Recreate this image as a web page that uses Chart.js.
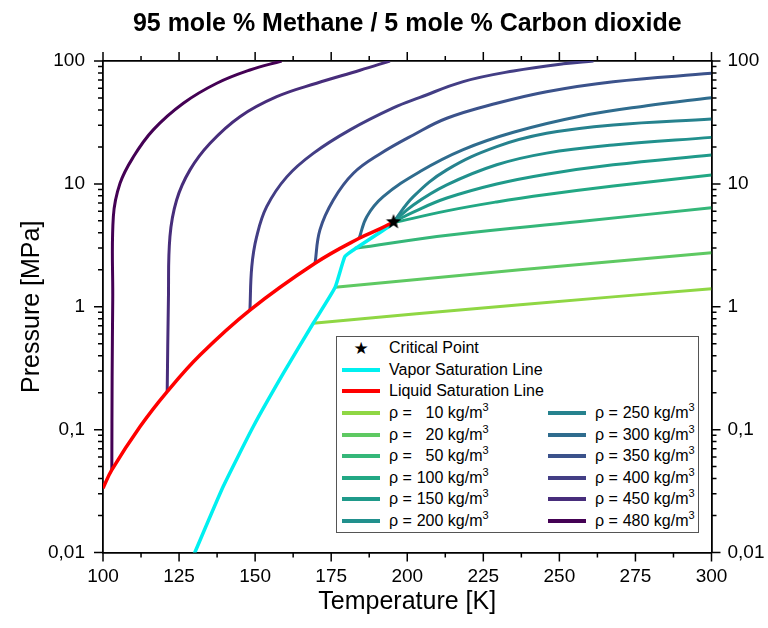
<!DOCTYPE html>
<html>
<head>
<meta charset="utf-8">
<title>95 mole % Methane / 5 mole % Carbon dioxide</title>
<script src="https://cdn.jsdelivr.net/npm/chart.js@4.4.1/dist/chart.umd.min.js"></script>
<style>
  body { margin: 0; background: #fff; }
  #wrap { position: relative; width: 768px; height: 628px; }
  #legend { position: absolute; left: 336px; top: 336px; width: 363px; height: 197px;
    border: 1px solid #555; background: #fff; box-sizing: border-box;
    font: 16px "Liberation Sans", Arial, sans-serif; color: #000; }
  .item { position: absolute; height: 21.6px; display: flex; align-items: center; white-space: nowrap; }
  .swatch { width: 38px; height: 4px; margin-right: 9px; flex: none; }
  .star { width: 38px; margin-right: 9px; text-align: center; font: 17px "DejaVu Sans", sans-serif; }
  .num { display: inline-block; width: 27px; text-align: right; }
  sup { font-size: 11px; line-height: 0; vertical-align: 7px; }
</style>
</head>
<body>
<div id="wrap">
  <canvas id="chart" width="768" height="628"></canvas>
  <div id="legend"></div>
</div>
<script>
// [temperature K, pressure MPa]
const criticalPoint = [[195.5, 4.9]];
const liquidLine = [[100, 0.0334], [102.9, 0.047], [112.2, 0.106], [121.1, 0.204], [131.9, 0.405],
  [148.3, 0.94], [169.7, 2.26], [184.2, 3.61], [191.0, 4.3], [195.5, 4.9]];
const vaporLine = [[129.8, 0.0095], [139.5, 0.0344], [149.4, 0.106], [159.3, 0.288], [169.1, 0.734],
  [176.3, 1.44], [179.5, 2.56], [182.3, 2.9], [193.8, 4.48], [195.5, 4.9]];

const rho10 = [[169.1, 0.734], [237.1, 1.04], [300, 1.40]];
const rho20 = [[176.3, 1.44], [237.1, 2.0], [300, 2.75]];
const rho50 = [[182.8, 2.99], [214.0, 3.84], [256.8, 4.94], [300, 6.4]];
const rho100 = [[195.3, 4.81], [213.0, 6.03], [229.4, 7.13], [245.8, 8.2], [267.7, 9.62], [300, 11.8]];
const rho150 = [[195.5, 4.9], [202.0, 5.9], [213.0, 7.67], [229.4, 9.98], [245.8, 12.0], [267.7, 14.3], [300, 17.2]];
const rho200 = [[195.5, 4.9], [202.0, 6.73], [213.0, 9.8], [229.4, 14.3], [245.8, 17.8], [267.7, 20.7], [300, 23.9]];
const rho250 = [[195.5, 4.9], [202.0, 7.87], [213.0, 13.0], [229.4, 20.1], [245.8, 25.8], [267.7, 30.2], [300, 33.7]];
const rho300 = [[184.2, 3.61], [186.7, 5.41], [192.1, 7.87], [204.2, 12.6], [218.4, 19.0], [234.9, 26.3],
  [256.8, 35.5], [278.7, 43.2], [300, 50.3]];
const rho350 = [[169.7, 2.26], [171.3, 4.22], [175.7, 7.4], [182.3, 12.2], [191.0, 17.5], [202.0, 25.0],
  [213.0, 34.2], [229.4, 45.3], [245.8, 56.3], [267.7, 67.9], [300, 79.4]];
const rho400 = [[148.3, 0.94], [148.9, 2.12], [150.5, 3.72], [153.8, 6.52], [160.4, 11.4], [169.1, 17.7],
  [181.2, 27.5], [195.4, 41.5], [204.2, 50.5], [218.4, 68], [234.9, 83], [251.3, 95], [261.2, 100]];
const rho450 = [[121.1, 0.204], [121.5, 1.14], [122.0, 3.72], [124.2, 7.4], [128.6, 13.0], [135.2, 21.4],
  [145.0, 35.2], [157.1, 51.2], [170.2, 65.9], [184.5, 84], [194.3, 100]];
const rho480 = [[102.9, 0.047], [103.0, 0.27], [103.2, 1.14], [103.4, 5.41], [105.6, 10.1], [110.0, 16.6],
  [116.5, 27.5], [126.4, 45.3], [137.4, 65.9], [148.3, 84.5], [158.7, 100]];

const densities = [10, 20, 50, 100, 150, 200, 250, 300, 350, 400, 450, 480];
const isochores = [rho10, rho20, rho50, rho100, rho150, rho200, rho250, rho300, rho350, rho400, rho450, rho480];
const densityColors = ['#8fd744', '#5ec962', '#35b779', '#22a884', '#1f9a8a', '#21908d',
  '#26828e', '#2f6c8e', '#3b528b', '#433e85', '#472d7b', '#440154'];
const vaporColor = '#00f0f0';
const liquidColor = '#ff0000';
const yTickLabels = ['0,01', '0,1', '1', '10', '100'];

Chart.defaults.font.family = '"Liberation Sans", Arial, sans-serif';
Chart.defaults.color = '#000';

const toPoints = arr => arr.map(p => ({ x: p[0], y: p[1] }));

function makeStar(r) {
  const c = document.createElement('canvas');
  c.width = c.height = r * 2 + 2;
  const g = c.getContext('2d');
  g.beginPath();
  for (let i = 0; i < 10; i++) {
    const rad = i % 2 ? r * 0.42 : r;
    const a = -Math.PI / 2 + i * Math.PI / 5;
    g.lineTo(r + 1 + rad * Math.cos(a), r + 1 + rad * Math.sin(a));
  }
  g.closePath();
  g.fillStyle = '#000';
  g.fill();
  return c;
}

// tick marks outside the frame, long at majors
const frameTicks = {
  id: 'frameTicks',
  afterDraw(chart) {
    const { ctx, chartArea: area, scales: { x, y } } = chart;
    ctx.save();
    ctx.strokeStyle = '#000';
    ctx.lineWidth = 1.5;
    ctx.beginPath();
    for (let t = 100; t <= 300; t += 12.5) {
      const px = x.getPixelForValue(t);
      const len = t % 25 === 0 ? 9 : 5;
      ctx.moveTo(px, area.bottom); ctx.lineTo(px, area.bottom + len);
      ctx.moveTo(px, area.top); ctx.lineTo(px, area.top - len);
    }
    for (let e = -2; e <= 2; e++) {
      for (let k = 1; k <= (e === 2 ? 1 : 9); k++) {
        const py = y.getPixelForValue(k * Math.pow(10, e));
        const len = k === 1 ? 9 : 5;
        ctx.moveTo(area.left, py); ctx.lineTo(area.left - len, py);
        ctx.moveTo(area.right, py); ctx.lineTo(area.right + len, py);
      }
    }
    ctx.stroke();
    ctx.restore();
  }
};

const datasets = [
  { label: 'Critical Point', data: toPoints(criticalPoint), showLine: false,
    pointStyle: makeStar(8), pointRadius: 8, pointHoverRadius: 8 },
  { label: 'Liquid Saturation Line', data: toPoints(liquidLine), borderColor: liquidColor,
    borderWidth: 3.5, tension: 0.4 },
  { label: 'Vapor Saturation Line', data: toPoints(vaporLine), borderColor: vaporColor,
    borderWidth: 3.5, tension: 0.15 }
];
densities.forEach((d, i) => {
  datasets.push({ label: 'ρ = ' + d + ' kg/m³', data: toPoints(isochores[i]),
    borderColor: densityColors[i], borderWidth: 3, tension: 0.4 });
});

const logTick = v => {
  const e = Math.log10(v);
  return Math.abs(e - Math.round(e)) < 1e-6 ? yTickLabels[Math.round(e) + 2] : '';
};
const frameBorder = { color: '#000', width: 1.8 };
const noGrid = { drawOnChartArea: false, drawTicks: false };

new Chart(document.getElementById('chart'), {
  type: 'scatter',
  data: { datasets },
  options: {
    responsive: false,
    animation: false,
    layout: { padding: 0 },
    elements: { point: { radius: 0, hoverRadius: 0 }, line: { fill: false } },
    datasets: { scatter: { showLine: true } },
    plugins: {
      legend: { display: false },
      tooltip: { enabled: false },
      title: {
        display: true,
        fullSize: false,
        text: '95 mole % Methane / 5 mole % Carbon dioxide',
        font: { size: 25, weight: 'bold' },
        padding: { top: 9, bottom: 10 }
      }
    },
    scales: {
      x: {
        type: 'linear', position: 'bottom', min: 100, max: 300,
        ticks: { stepSize: 25, padding: 13, font: { size: 19 } },
        grid: noGrid, border: frameBorder,
        title: { display: true, text: 'Temperature [K]', font: { size: 25 }, padding: { top: 0, bottom: 11 } },
        afterFit: s => { s.height = 75.5; }
      },
      x2: {
        type: 'linear', position: 'top', min: 100, max: 300,
        ticks: { display: false }, grid: noGrid, border: frameBorder,
        afterFit: s => { s.height = 12; }
      },
      y: {
        type: 'logarithmic', position: 'left', min: 0.01, max: 100,
        ticks: { autoSkip: false, padding: 18, font: { size: 19 }, callback: logTick },
        grid: noGrid, border: frameBorder,
        title: { display: true, text: 'Pressure [MPa]', font: { size: 25 }, padding: { top: 17, bottom: 0 } },
        afterFit: s => { s.width = 103; }
      },
      y2: {
        type: 'logarithmic', position: 'right', min: 0.01, max: 100,
        ticks: { autoSkip: false, padding: 16, font: { size: 19 }, callback: logTick },
        grid: noGrid, border: frameBorder,
        afterFit: s => { s.width = 56.5; }
      }
    }
  },
  plugins: [frameTicks]
});

// legend box drawn as html, built from the same arrays
const legend = document.getElementById('legend');
function addItem(col, row, swatchHtml, textHtml) {
  const div = document.createElement('div');
  div.className = 'item';
  div.style.left = (col === 0 ? 5 : 211) + 'px';
  div.style.top = (0.5 + row * 21.6) + 'px';
  div.innerHTML = swatchHtml + '<span>' + textHtml + '</span>';
  legend.appendChild(div);
}
addItem(0, 0, '<span class="star">★</span>', 'Critical Point');
addItem(0, 1, '<span class="swatch" style="background:' + vaporColor + '"></span>', 'Vapor Saturation Line');
addItem(0, 2, '<span class="swatch" style="background:' + liquidColor + '"></span>', 'Liquid Saturation Line');
densities.forEach((d, i) => {
  const col = i < 6 ? 0 : 1;
  const row = 3 + (i % 6);
  addItem(col, row, '<span class="swatch" style="background:' + densityColors[i] + '"></span>',
    'ρ = <span class="num">' + d + '</span> kg/m<sup>3</sup>');
});
</script>
</body>
</html>
